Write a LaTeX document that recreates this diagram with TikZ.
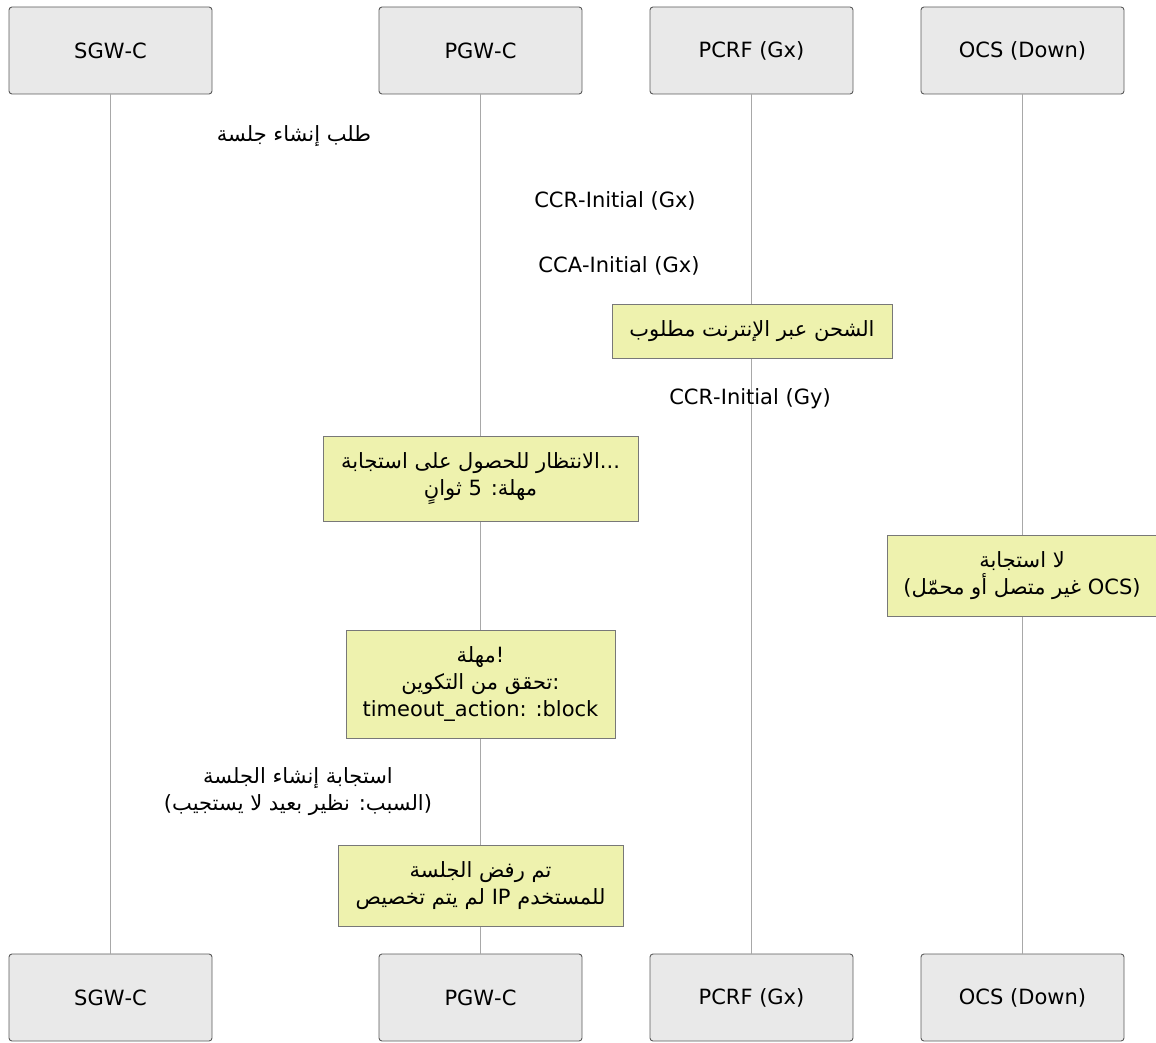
\documentclass[tikz,border=0pt]{standalone}
\usepackage{fontspec}
\setmainfont{DejaVu Sans}
\newfontfamily\arabicfont[Script=Arabic]{DejaVu Sans}
\TeXXeTstate=1
\newcommand{\myrtl}[1]{\beginR #1\endR}
\newcommand{\jn}{\kern0pt{}}
\definecolor{partfill}{RGB}{233,233,233}
\definecolor{partdraw}{RGB}{90,90,90}
\definecolor{notefill}{RGB}{238,242,174}
\definecolor{notedraw}{RGB}{120,120,120}
\definecolor{lifecol}{RGB}{168,168,168}
\tikzset{
  part/.style={draw=partdraw, fill=partfill, rounded corners=3pt, line width=0.9pt,
    minimum width=203pt, minimum height=87pt, inner sep=0pt},
  note/.style={draw=notedraw, fill=notefill, line width=0.9pt, align=center, inner sep=0pt},
  msg/.style={align=center, inner sep=0pt},
  life/.style={draw=lifecol, line width=1pt}
}
\begin{document}
\begin{tikzpicture}[x=1pt,y=-1pt, font=\fontsize{21}{27}\selectfont\arabicfont]
\useasboundingbox (0,0) rectangle (1156,1043);
% participants
\node[part] (sgwT) at (110.5,50.5) {SGW-C};
\node[part] (pgwT) at (480.5,50.5) {PGW-C};
\node[part] (pcrfT) at (751.5,50.5) {PCRF (Gx)};
\node[part] (ocsT) at (1022.5,50.5) {OCS (Down)};
\node[part] (sgwB) at (110.5,997.5) {SGW-C};
\node[part] (pgwB) at (480.5,997.5) {PGW-C};
\node[part] (pcrfB) at (751.5,997.5) {PCRF (Gx)};
\node[part] (ocsB) at (1022.5,997.5) {OCS (Down)};
% lifelines
\draw[life] (sgwT.south) -- (sgwB.north);
\draw[life] (pgwT.south) -- (pgwB.north);
\draw[life] (pcrfT.south) -- (pcrfB.north);
\draw[life] (ocsT.south) -- (ocsB.north);
% messages and notes
\node[msg] (m1) at (294,136) {\myrtl{طلب إنشاء جلسة}};
\node[msg] (m2) at (615,201) {CCR-Initial (Gx)};
\node[msg] (m3) at (619,266) {CCA-Initial (Gx)};
\node[note, minimum width=280pt, minimum height=54pt] (n1) at (752,331) {\myrtl{الشحن عبر الإنترنت مطلوب}};
\node[msg] (m4) at (750,399) {CCR-Initial (Gy)};
\node[note, minimum width=315pt, minimum height=85pt] (n2) at (480.5,478.5) {\myrtl{الانتظار للحصول على استجابة}\jn...\\\myrtl{مهلة\jn: 5 ثوانٍ}};
\node[note, minimum width=270pt, minimum height=81pt] (n3) at (1022,575.5) {\myrtl{لا استجابة}\\\myrtl{(\beginL OCS\endL{} غير متصل أو محمّل)}};
\node[note, minimum width=269pt, minimum height=108pt] (n4) at (480.5,684) {\myrtl{مهلة}\jn!\\\myrtl{تحقق من التكوين}\jn:\\timeout\_action: :block};
\node[msg] (m5) at (298,792) {\myrtl{استجابة إنشاء الجلسة}\\\myrtl{(السبب: نظير بعيد لا يستجيب)}};
\node[note, minimum width=285pt, minimum height=81pt] (n5) at (480.5,885.5) {\myrtl{تم رفض الجلسة}\\\myrtl{لم يتم تخصيص}\ IP \myrtl{للمستخدم}};
\end{tikzpicture}
\end{document}
